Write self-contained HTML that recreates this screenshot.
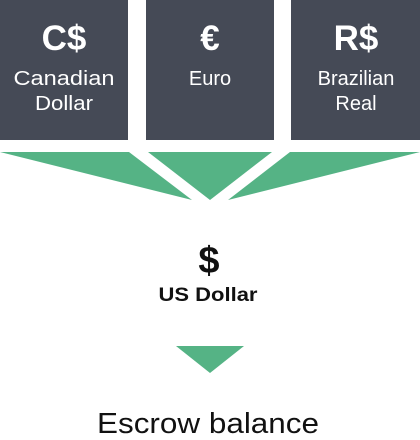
<!DOCTYPE html>
<html><head><meta charset="utf-8"><style>
html,body{margin:0;padding:0;background:#fff;width:420px;height:440px;overflow:hidden}
text{font-family:"Liberation Sans",sans-serif}
</style></head><body>
<svg width="420" height="440" viewBox="0 0 420 440">
<g>
<rect x="0" y="0" width="128" height="140" fill="#454a56"/>
<text x="64" y="50" text-anchor="middle" fill="#fff" font-size="35" font-weight="bold">C$</text>
<text x="64" y="85" text-anchor="middle" fill="#fff" font-size="20" textLength="101" lengthAdjust="spacingAndGlyphs">Canadian</text>
<text x="64" y="110" text-anchor="middle" fill="#fff" font-size="20" textLength="58" lengthAdjust="spacingAndGlyphs">Dollar</text>
</g>
<g>
<rect x="146" y="0" width="128" height="140" fill="#454a56"/>
<text x="210" y="50" text-anchor="middle" fill="#fff" font-size="35" font-weight="bold">€</text>
<text x="210" y="85" text-anchor="middle" fill="#fff" font-size="20">Euro</text>
</g>
<g>
<rect x="291" y="0" width="129" height="140" fill="#454a56"/>
<text x="356" y="50" text-anchor="middle" fill="#fff" font-size="35" font-weight="bold">R$</text>
<text x="356" y="85" text-anchor="middle" fill="#fff" font-size="20">Brazilian</text>
<text x="356" y="110" text-anchor="middle" fill="#fff" font-size="20">Real</text>
</g>
<polygon points="0,152 129,152 192,200" fill="#55b385"/>
<polygon points="148,152 272,152 210,200" fill="#55b385"/>
<polygon points="290,152 420,152 228,200" fill="#55b385"/>
<text x="209" y="273" text-anchor="middle" fill="#111" font-size="38" font-weight="bold">$</text>
<text x="208" y="301" text-anchor="middle" fill="#111" font-size="19" font-weight="bold" textLength="99" lengthAdjust="spacingAndGlyphs">US Dollar</text>
<polygon points="176,346 244,346 210,373" fill="#55b385"/>
<text x="208" y="433" text-anchor="middle" fill="#111" font-size="29" textLength="222" lengthAdjust="spacingAndGlyphs">Escrow balance</text>
</svg>
</body></html>
